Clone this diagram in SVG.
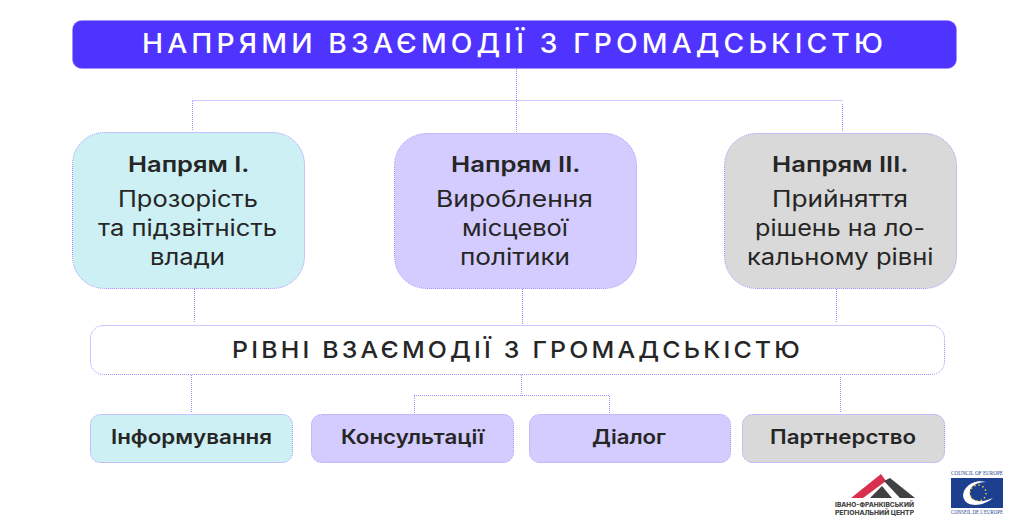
<svg xmlns="http://www.w3.org/2000/svg" width="1021" height="529" viewBox="0 0 1021 529">
<style>
text{font-family:"Inter","Noto Sans","Liberation Sans",sans-serif;text-anchor:start;fill:#262626}
.b{stroke:#9d8cff;stroke-width:1;stroke-dasharray:1 1}
.c{fill:none;stroke:#9d8cff;stroke-width:1;stroke-dasharray:1 1}
.h{font-size:22px;font-weight:600}
.t{font-size:22.500px;font-weight:400}
.s{font-size:20px;font-weight:600}
.cy{fill:#cdf0f4}.vi{fill:#d4ccff}.gr{fill:#d9d9d9}
.m{font-family:"Liberation Serif",serif;font-size:6.500px;fill:#1d3f8f}
.l{font-size:6.500px;font-weight:800;fill:#444}
</style>
<rect width="1021" height="529" fill="#fff"/>
<g id="connectors">
<path class="c" d="M516.500 69V133M192.500 100.500H843M192.500 101V130M842.500 104V131M194.500 289V323M522.500 289V325M836.500 289V323M191.500 375V412M521.500 375V395.500M414 395.500H609.500M414.500 396V413M609.500 396V413M840.500 377V412"/>
</g>
<g id="title"><rect class="b" x="72.500" y="20.500" width="884" height="48" rx="9" fill="#4f33ff"/>
<text x="142" y="53" textLength="745" lengthAdjust="spacingAndGlyphs" style="font-size:27.500px;font-weight:500;fill:#fff;letter-spacing:4px">НАПРЯМИ ВЗАЄМОДІЇ З ГРОМАДСЬКІСТЮ</text></g>
<g id="dir1"><rect class="b cy" x="72.500" y="132.500" width="232" height="156" rx="32"/>
<text class="h" x="128" y="172" textLength="121.500" lengthAdjust="spacingAndGlyphs">Напрям I.</text>
<text class="t" x="118" y="207" textLength="140" lengthAdjust="spacingAndGlyphs">Прозорість</text>
<text class="t" x="98" y="236" textLength="179" lengthAdjust="spacingAndGlyphs">та підзвітність</text>
<text class="t" x="150" y="265" textLength="75" lengthAdjust="spacingAndGlyphs">влади</text></g>
<g id="dir2"><rect class="b vi" x="394.500" y="133.500" width="242" height="155" rx="32"/>
<text class="h" x="451" y="172" textLength="129.500" lengthAdjust="spacingAndGlyphs">Напрям II.</text>
<text class="t" x="436" y="207" textLength="157" lengthAdjust="spacingAndGlyphs">Вироблення</text>
<text class="t" x="462" y="236" textLength="106" lengthAdjust="spacingAndGlyphs">місцевої</text>
<text class="t" x="460" y="265" textLength="110" lengthAdjust="spacingAndGlyphs">політики</text></g>
<g id="dir3"><rect class="b gr" x="724.500" y="133.500" width="232" height="155" rx="32"/>
<text class="h" x="772" y="172" textLength="136.500" lengthAdjust="spacingAndGlyphs">Напрям III.</text>
<text class="t" x="772" y="207" textLength="136" lengthAdjust="spacingAndGlyphs">Прийняття</text>
<text class="t" x="755" y="236" textLength="170" lengthAdjust="spacingAndGlyphs">рішень на ло-</text>
<text class="t" x="747" y="265" textLength="186.500" lengthAdjust="spacingAndGlyphs">кальному рівні</text></g>
<g id="levels"><rect class="b" x="90.500" y="325.500" width="854" height="49" rx="13" fill="#fff"/>
<text x="232" y="358" textLength="571" lengthAdjust="spacingAndGlyphs" style="font-size:23.500px;font-weight:500;letter-spacing:3px">РІВНІ ВЗАЄМОДІЇ З ГРОМАДСЬКІСТЮ</text></g>
<g id="l1"><rect class="b cy" x="90.500" y="414.500" width="202" height="48" rx="10"/><text class="s" x="111" y="444" textLength="161" lengthAdjust="spacingAndGlyphs">Інформування</text></g>
<g id="l2"><rect class="b vi" x="311.500" y="414.500" width="202" height="48" rx="10"/><text class="s" x="341" y="444" textLength="143" lengthAdjust="spacingAndGlyphs">Консультації</text></g>
<g id="l3"><rect class="b vi" x="529.500" y="414.500" width="201" height="48" rx="10"/><text class="s" x="592" y="444" textLength="74" lengthAdjust="spacingAndGlyphs">Діалог</text></g>
<g id="l4"><rect class="b gr" x="742.500" y="414.500" width="202" height="48" rx="10"/><text class="s" x="770" y="444" textLength="146" lengthAdjust="spacingAndGlyphs">Партнерство</text></g>
<g id="logo-if">
<polygon points="851,498 881,474 886,481 863,498" fill="#d9304f"/>
<polygon points="870,498 882,486 892,498" fill="#414042"/>
<polygon points="884,481 890,478 915,498 900,498" fill="#414042"/>
<text class="l" x="835" y="507" textLength="79" lengthAdjust="spacingAndGlyphs">ІВАНО-ФРАНКІВСЬКИЙ</text>
<text class="l" x="835" y="514.500" textLength="79" lengthAdjust="spacingAndGlyphs">РЕГІОНАЛЬНИЙ ЦЕНТР</text>
</g>
<g id="logo-coe">
<text class="m" x="951" y="475" textLength="52" lengthAdjust="spacingAndGlyphs">COUNCIL OF EUROPE</text>
<rect x="951" y="478" width="52" height="30" fill="#1d3f8f"/>
<path d="M986 482C972 478 960 490 964 499C968 508 984 506 993 498C982 503 972 502 970 495C968 487 976 482 986 482Z" fill="#fff"/>
<circle cx="978" cy="493" r="8" fill="none" stroke="#f2d027" stroke-width="1.500" stroke-dasharray="1.500 2.700"/>
<text class="m" x="951" y="514" textLength="52" lengthAdjust="spacingAndGlyphs">CONSEIL DE L'EUROPE</text>
</g>
</svg>
